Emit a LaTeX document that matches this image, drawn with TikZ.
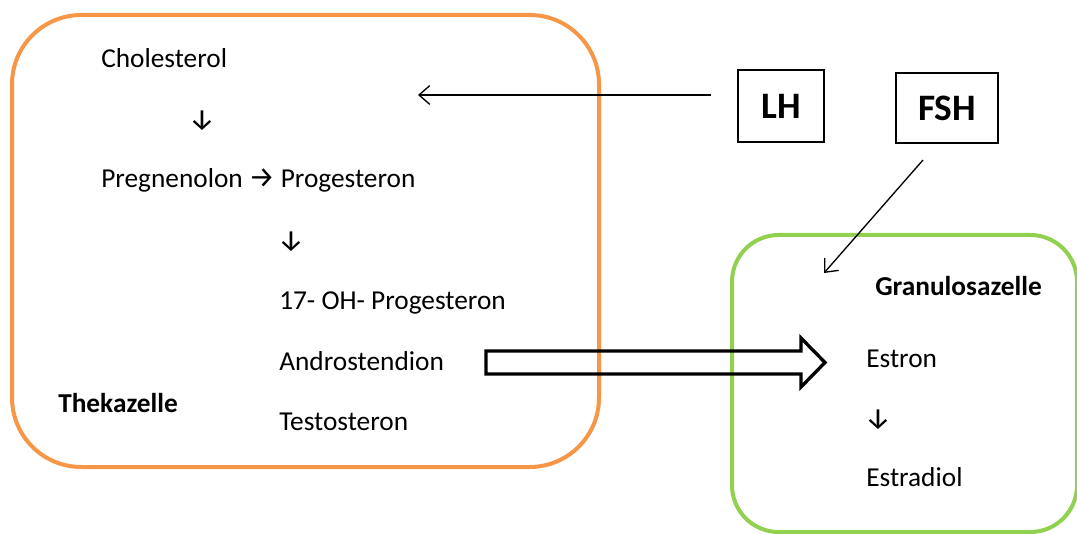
\documentclass[tikz,border=0pt]{standalone}
\usepackage{fontspec}
\setmainfont{Carlito}
\newfontfamily\arrowfont{Fira Sans}
\usetikzlibrary{arrows.meta}
\definecolor{orangebox}{HTML}{F79646}
\definecolor{greenbox}{HTML}{92D050}
\begin{document}
\begin{tikzpicture}[x=0.75pt,y=-0.75pt,
  txt/.style={anchor=base west, inner sep=0pt, font=\fontsize{20.5}{24}\selectfont},
  boldtxt/.style={anchor=base west, inner sep=0pt, font=\fontsize{20.5}{24}\selectfont\bfseries},
  arr/.style={anchor=center, inner sep=0pt, font=\fontsize{22}{26}\selectfont\arrowfont},
  hormone/.style={draw, line width=1.5pt, inner sep=0pt, font=\fontsize{28}{32}\selectfont\bfseries},
  thinarrow/.style={line width=1pt, -{Straight Barb[length=8pt,width=14pt,line width=1pt]}},
  cellbox/.style={line width=3pt}
]
\useasboundingbox (0,0) rectangle (1077,534);
\begin{scope}
\clip (0,0) rectangle (1077,534);
% cell boxes
\draw[cellbox, draw=orangebox, rounded corners=52pt] (12,15) rectangle (599,467);
\draw[cellbox, draw=greenbox, rounded corners=35pt] (732,235) rectangle (1077,532);
\end{scope}

% Theka cell contents
\node[txt] (chol) at (101,68) {Cholesterol};
\node[arr] (a1) at (202,121) {↓};
\node[txt] (preg) at (101,188) {Pregnenolon\makebox[28.5pt]{\arrowfont\fontsize{22}{26}\selectfont →}Progesteron};
\node[arr] (a2) at (291,242) {↓};
\node[txt] (ohp) at (279,310) {17- OH- Progesteron};
\node[txt] (andro) at (279,370) {Androstendion};
\node[txt] (testo) at (279,430) {Testosteron};
\node[boldtxt] (theka) at (58,412) {Thekazelle};

% Granulosa cell contents
\node[boldtxt] (granu) at (875,296) {Granulosazelle};
\node[txt] (estron) at (866,367) {Estron};
\node[arr] (a3) at (878,420) {↓};
\node[txt] (estra) at (866,486) {Estradiol};

% hormones
\node[hormone, minimum width=64.5pt, minimum height=54pt] (lh) at (781,106) {LH};
\node[hormone, minimum width=76.5pt, minimum height=52.5pt] (fsh) at (947,108) {FSH};

% LH arrow
\coordinate (lhstart) at (711,95);
\coordinate (lhend) at (418,95);
\draw[thinarrow] (lhstart) -- (lhend);

% FSH arrow
\coordinate (fshstart) at (923,160);
\coordinate (fshend) at (824,273);
\draw[thinarrow] (fshstart) -- (fshend);

% block arrow from Androstendion to Estron
\draw[line width=2.5pt, line join=miter, miter limit=10]
  (486,351) -- (801,351) -- (801,338) -- (825,362.5) -- (801,387) -- (801,374) -- (486,374) -- cycle;
\end{tikzpicture}
\end{document}
